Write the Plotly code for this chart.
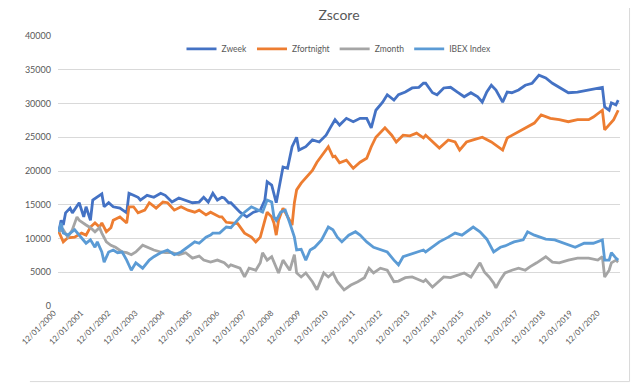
import pandas as pd
import plotly.graph_objects as go

# x data: months elapsed since 12/01/2000 (dd/mm/yyyy); y data: index levels
zweek_months = [0,1,2,3,5,6,9,10,11,12,14,15,17,19,20,22,24,27,30,31,33,35,36,39,42,45,47,50,53,56,59,62,64,66,68,70,72,73,75,76,80,83,86,89,91,92,94,96,97,99,101,103,105,106,109,112,115,118,120,122,124,127,130,133,136,138,140,143,145,148,150,153,156,159,161,162,165,167,170,173,176,179,182,185,187,189,191,193,196,198,200,203,206,209,212,215,218,221,225,229,234,238,240,241,243,244,246,247]
zweek = [11000,12700,12000,13800,14500,13800,15300,14200,13200,14700,12700,15700,16100,16600,14700,15300,14700,14500,13800,16700,16400,16100,15700,16400,16100,16700,16400,15400,16000,15700,15300,15400,16100,15400,16700,15700,16100,16000,15300,15300,13900,13200,13900,14200,15700,18400,17900,15300,17200,20600,20400,23600,25000,23100,23600,24600,24300,25300,26500,27600,26800,27800,27300,27800,27800,26400,29000,30200,31300,30500,31300,31700,32300,32400,33000,33000,31600,31300,32300,32400,31700,31000,31600,31000,30200,31700,32700,32000,30200,31700,31600,32000,32700,33000,34200,33800,33000,32400,31600,31700,32000,32300,32400,29500,29000,30100,29800,30500]

zfortnight_months = [0,2,4,7,10,12,14,16,18,19,21,23,24,27,30,31,33,35,38,40,43,46,48,51,54,57,60,62,65,67,71,72,74,76,79,82,85,87,89,91,92,94,95,96,97,99,101,103,104,105,107,109,112,114,117,119,121,122,124,127,130,133,136,138,140,144,147,149,152,155,158,161,162,165,168,172,175,177,180,183,187,191,194,196,198,202,206,210,213,217,221,225,229,234,236,240,241,243,245,247]
zfortnight = [11000,9500,10100,10200,10800,10500,11700,12300,11700,12300,11000,11600,12700,13200,12300,14700,14700,13800,14200,15300,14500,15400,15300,14200,14700,14200,13900,14200,13500,13900,13200,13200,12400,12300,12200,10800,10200,9500,10200,12700,13900,13200,12300,10500,12700,14500,13200,12000,15300,17200,18200,19000,20100,21300,22700,23600,22100,22200,21200,21600,20400,21300,21900,23600,25000,26400,25300,24300,25300,25200,25600,24900,25300,24300,23400,24600,24300,23100,24300,24600,25000,24300,23600,23100,24900,25600,26400,27100,28300,27800,27600,27300,27600,27600,28000,29000,26100,26800,27600,29000]

zmonth_months = [0,2,4,6,8,9,12,14,16,18,19,21,23,25,28,30,32,34,37,39,42,45,47,50,53,56,59,62,64,67,70,73,75,76,80,82,84,87,89,90,92,94,97,99,102,104,105,107,109,112,114,117,119,121,123,126,129,132,135,137,139,142,145,148,150,153,156,159,161,162,165,167,170,173,176,179,182,186,188,190,192,193,195,197,200,203,206,208,211,215,218,221,225,229,234,238,240,241,243,244,246,247]
zmonth = [11000,11300,10200,11300,13200,12700,12000,11600,11000,11600,10800,9500,9000,8700,8000,7900,7600,8000,9000,8700,8300,8000,7900,7900,7600,7900,7100,7400,6800,6500,6800,6400,5800,6100,5600,4300,5600,5300,6400,7900,6800,7300,4900,6800,5300,7600,4900,4300,4900,3600,2400,4900,4300,4900,3600,2400,3100,3600,4200,5600,4900,5600,5300,3600,3700,4200,4300,3900,3600,3900,2800,3400,4300,4200,4600,4900,4300,6400,5000,4300,3400,2700,3900,4900,5300,5600,5300,5800,6400,7300,6500,6400,6800,7100,7100,6800,7300,4300,5300,6400,6800,6500]

ibex_months = [0,1,2,4,7,9,12,14,16,17,19,20,22,24,26,28,30,32,34,37,40,42,45,48,51,54,57,60,62,65,67,68,71,74,76,79,82,85,88,90,92,94,95,96,98,100,102,104,105,107,109,111,113,116,119,121,123,125,128,131,133,136,139,142,145,148,150,152,155,158,161,162,165,168,172,175,178,180,183,186,189,192,195,197,201,205,207,210,215,219,223,228,232,236,240,241,243,244,246,247]
ibex = [11000,12300,10800,10500,11300,10500,9300,9800,8700,9500,8000,6500,8000,8300,7900,8000,6800,5300,6400,5600,6800,7300,7900,8300,7600,8000,8700,9500,9300,10200,10500,10800,10800,11700,11600,12700,13900,14700,14200,13900,15700,15400,13200,12700,13900,14200,12300,10200,8300,8400,6800,8300,8700,9800,11700,11300,10200,9500,10500,11000,10500,9500,8700,8300,8000,6800,6100,7300,7600,8000,8300,8000,8700,9500,10200,10800,10500,11000,11700,11000,9900,8000,8700,8900,9500,9800,11000,10500,9900,9800,9300,8700,9300,9300,9800,6800,6800,7900,7100,6800]

tick_years = list(range(2000, 2021))
tick_labels = [f"12/01/{y}" for y in tick_years]

start = pd.Timestamp("2000-01-12")
def to_dates(months):
    return [start + pd.DateOffset(months=m) for m in months]

series = [
    ("Zweek", zweek_months, zweek, "#4472C4"),
    ("Zfortnight", zfortnight_months, zfortnight, "#ED7D31"),
    ("Zmonth", zmonth_months, zmonth, "#A5A5A5"),
    ("IBEX Index", ibex_months, ibex, "#5B9BD5"),
]

fig = go.Figure()
for name, m, v, c in series:
    fig.add_trace(go.Scatter(x=to_dates(m), y=v, mode="lines", name=name,
                             line=dict(color=c, width=2.8)))

font = "Lato, 'Open Sans', sans-serif"
# page body has an 8px default margin, so the figure is 8px smaller than the window
fig.update_layout(
    width=632, height=376,
    margin=dict(l=34, r=20, t=28, b=78),
    paper_bgcolor="white", plot_bgcolor="white",
    font=dict(family=font, size=9, color="#595959"),
    title=dict(text="Zscore", x=0.5, xref="paper", xanchor="center", y=1, yanchor="top",
               pad=dict(t=2, b=0),
               font=dict(size=14, color="#595959", family=font)),
    showlegend=True,
    legend=dict(orientation="h", x=0.5, xanchor="center", y=0.952, yanchor="middle",
                font=dict(size=8.5, color="#595959"), bgcolor="rgba(0,0,0,0)",
                itemwidth=30, tracegroupgap=0),
    xaxis=dict(type="date", range=[pd.Timestamp("2000-01-01"), pd.Timestamp("2020-09-05")],
               tickvals=[pd.Timestamp(f"{y}-01-12") for y in tick_years], ticktext=tick_labels,
               tickangle=-45, showgrid=False, showline=False, zeroline=False, ticks="",
               ticklabelshift=-5,
               tickfont=dict(size=8, color="#595959")),
    yaxis=dict(range=[0, 40000], dtick=5000, tickformat="d", showgrid=True, gridcolor="#D9D9D9", gridwidth=1,
               zeroline=False, showline=False, ticks="", tickfont=dict(size=9, color="#595959"),
               ticklabelstandoff=6),
    shapes=[
        dict(type="line", xref="paper", yref="paper", x0=1.017, x1=1.017, y0=-0.28, y1=1.104,
             line=dict(color="#D9D9D9", width=1)),
        dict(type="line", xref="paper", yref="paper", x0=-0.05, x1=1.017, y0=-0.28, y1=-0.28,
             line=dict(color="#D9D9D9", width=1)),
    ],
)
fig.write_html("out.html")
